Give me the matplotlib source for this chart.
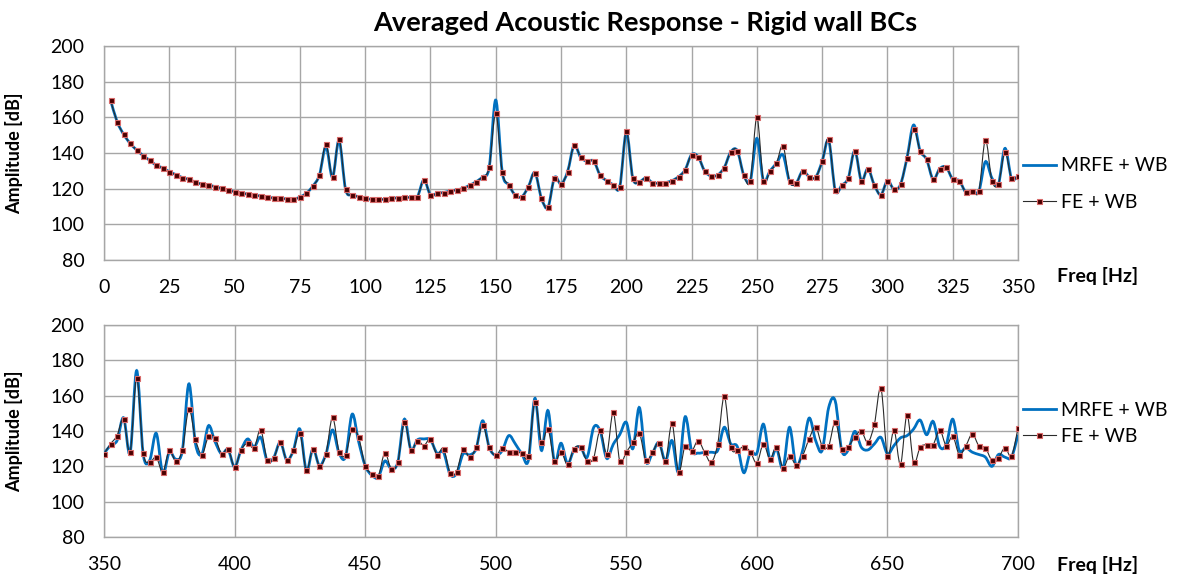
import numpy as np
import matplotlib
matplotlib.use("Agg")
import matplotlib.pyplot as plt
from matplotlib.path import Path
from matplotlib.patches import PathPatch
from matplotlib.lines import Line2D

plt.rcParams['font.family'] = ['Lato', 'DejaVu Sans']

# ---- data (amplitude in dB, 2.5 Hz steps) ----
fe_top = [
    169.7, 157.6, 150.5, 145.4, 141.7, 138.5, 135.9, 133.1, 131.6, 129.5,   # 2.5 - 25
    127.9, 126.2, 125.2, 123.6, 122.6, 122.1, 121.1, 120.2, 119.3, 118.3,   # 27.5 - 50
    117.8, 116.8, 116.3, 115.9, 115.5, 114.6, 114.6, 114.2, 114.0, 115.3,   # 52.5 - 75
    117.4, 121.5, 127.7, 145.0, 126.4, 147.9, 119.6, 116.6, 115.5, 114.6,   # 77.5 - 100
    114.0, 114.0, 114.0, 114.6, 114.8, 115.1, 115.1, 115.5, 124.9, 116.4,   # 102.5 - 125
    117.4, 117.8, 118.7, 119.3, 120.2, 121.9, 123.9, 126.7, 132.0, 162.6,   # 127.5 - 150
    129.3, 122.1, 116.3, 115.5, 121.1, 129.0, 114.6, 109.5, 126.2, 122.6,   # 152.5 - 175
    129.5, 144.3, 137.6, 135.3, 135.5, 127.5, 124.5, 122.2, 121.1, 152.1,   # 177.5 - 200
    125.8, 123.9, 126.0, 123.4, 123.0, 123.4, 124.5, 126.7, 130.5, 139.1,   # 202.5 - 225
    137.9, 129.9, 127.1, 127.7, 131.8, 140.6, 141.3, 127.5, 124.5, 160.0,   # 227.5 - 250
    124.5, 129.9, 134.2, 144.1, 124.1, 123.0, 129.9, 126.7, 126.4, 135.3,   # 252.5 - 275
    147.7, 119.1, 121.9, 126.0, 141.3, 124.5, 131.2, 121.9, 116.6, 124.5,   # 277.5 - 300
    119.6, 122.4, 137.4, 153.6, 141.3, 136.4, 125.2, 131.2, 132.0, 125.2,   # 302.5 - 325
    124.5, 118.1, 118.9, 118.5, 147.3, 124.5, 122.6, 140.7, 125.8, 127.3,   # 327.5 - 350
]
mrfe_top = [
    169.7, 157.6, 150.5, 145.4, 141.7, 138.5, 135.9, 133.1, 131.6, 129.5,
    127.9, 126.2, 125.2, 123.6, 122.6, 122.1, 121.1, 120.2, 119.3, 118.3,
    117.8, 116.8, 116.3, 115.9, 115.5, 114.6, 114.6, 114.2, 114.0, 115.3,
    117.4, 121.5, 127.7, 143.5, 126.4, 147.0, 119.6, 116.6, 115.5, 114.6,
    114.0, 114.0, 114.0, 114.6, 114.8, 115.1, 115.1, 115.5, 124.9, 116.4,
    117.4, 117.8, 118.7, 119.3, 120.2, 121.9, 123.9, 126.7, 132.0, 169.7,
    129.3, 122.1, 116.3, 115.5, 121.1, 129.0, 114.6, 109.5, 126.2, 122.6,
    129.5, 144.3, 137.6, 135.3, 135.5, 127.5, 124.5, 122.2, 121.1, 151.5,
    125.8, 123.9, 126.0, 123.4, 123.0, 123.4, 124.5, 126.7, 130.5, 139.1,
    137.9, 129.9, 127.1, 127.7, 131.8, 140.6, 141.3, 127.5, 124.5, 148.2,
    124.5, 129.9, 134.2, 138.9, 124.1, 123.0, 129.9, 126.7, 126.4, 135.3,
    147.0, 119.1, 121.9, 126.0, 141.3, 124.5, 131.2, 121.9, 116.6, 124.5,
    119.6, 122.4, 137.4, 155.7, 141.3, 136.4, 125.2, 131.2, 132.0, 125.2,
    124.5, 118.1, 118.9, 118.5, 135.1, 126.0, 122.6, 142.6, 125.8, 127.3,
]
fe_bot = [
    127.1,                                                                  # 350
    132.7, 137.4, 146.7, 128.0, 170.1, 127.7, 122.4, 125.2, 116.8, 129.0,   # 352.5 - 375
    123.0, 129.3, 152.3, 135.5, 126.7, 137.0, 136.1, 127.1, 129.9, 119.6,   # 377.5 - 400
    129.3, 133.1, 130.5, 140.7, 123.4, 124.7, 133.6, 123.4, 129.0, 138.7,   # 402.5 - 425
    117.8, 129.9, 120.4, 127.1, 147.7, 128.4, 126.7, 141.1, 136.4, 120.4,   # 427.5 - 450
    115.9, 114.4, 127.5, 118.7, 122.4, 144.9, 129.3, 134.6, 131.8, 135.5,   # 452.5 - 475
    126.7, 130.1, 116.3, 117.0, 129.7, 125.2, 130.8, 143.4, 130.8, 126.2,   # 477.5 - 500
    130.5, 128.0, 128.0, 127.5, 125.8, 156.6, 133.6, 141.1, 123.0, 128.2,   # 502.5 - 525
    121.1, 130.1, 130.8, 123.0, 124.9, 140.6, 127.1, 150.5, 123.0, 128.0,   # 527.5 - 550
    133.6, 138.7, 123.4, 128.0, 133.3, 123.0, 144.3, 116.8, 131.6, 128.6,   # 552.5 - 575
    134.6, 127.9, 122.4, 132.7, 159.6, 131.2, 129.0, 131.2, 128.2, 121.9,   # 577.5 - 600
    132.7, 124.1, 130.8, 119.3, 126.0, 120.9, 126.0, 135.5, 142.4, 131.6,   # 602.5 - 625
    131.6, 145.2, 129.9, 131.2, 136.8, 139.8, 133.6, 143.9, 164.3, 126.0,   # 627.5 - 650
    140.6, 121.1, 149.2, 122.2, 130.8, 132.3, 132.3, 140.6, 131.8, 137.0,   # 652.5 - 675
    126.7, 131.6, 138.3, 131.6, 130.5, 123.4, 124.9, 130.5, 125.8, 141.7,   # 677.5 - 700
]
mrfe_bot = [
    127.1,
    132.0, 134.6, 147.5, 127.5, 174.2, 127.0, 123.5, 138.7, 116.0, 128.0,
    124.0, 129.0, 166.7, 133.0, 127.0, 143.0, 134.0, 127.0, 129.5, 119.6,
    129.3, 135.5, 131.0, 136.4, 123.0, 125.0, 133.6, 123.4, 129.0, 141.1,
    117.5, 129.9, 120.4, 127.1, 140.6, 127.5, 125.5, 149.5, 134.0, 120.4,
    115.0, 113.8, 123.0, 118.7, 122.4, 146.7, 129.5, 135.0, 135.5, 135.0,
    127.5, 128.0, 115.5, 115.9, 127.0, 126.5, 130.0, 145.8, 130.8, 126.2,
    129.0, 137.4, 132.7, 127.1, 123.4, 158.5, 129.0, 151.6, 122.4, 133.1,
    121.5, 129.5, 130.8, 125.2, 142.0, 140.0, 124.5, 132.5, 138.0, 144.9,
    130.0, 153.3, 123.0, 127.5, 133.5, 123.0, 134.6, 116.8, 148.0, 129.0,
    127.5, 127.9, 128.0, 129.0, 142.1, 132.7, 131.2, 116.4, 128.0, 127.5,
    143.9, 124.0, 130.0, 119.0, 142.1, 120.4, 129.0, 147.3, 134.6, 129.0,
    153.3, 157.0, 129.0, 129.3, 139.8, 130.8, 129.3, 132.7, 136.4, 127.1,
    131.8, 136.1, 137.4, 141.1, 146.2, 137.9, 145.4, 131.2, 132.3, 146.7,
    129.0, 130.5, 128.0, 126.7, 125.2, 120.0, 126.7, 125.2, 125.2, 137.9,
]
freq_top = np.arange(1, len(fe_top) + 1) * 2.5
freq_bot = 350 + np.arange(len(fe_bot)) * 2.5

title = 'Averaged Acoustic Response - Rigid wall BCs'
y_ticks = [80, 100, 120, 140, 160, 180, 200]
x_ticks_top = list(range(0, 351, 25))
x_ticks_bot = list(range(350, 701, 50))

blue = '#0070c0'
dark = '#2b2b2b'
grid_c = '#a6a6a6'
mk = dict(marker='s', ms=3.6, mfc='#4a0000', mec='#d86a6a', mew=0.8)


def smooth_path(x, y):
    # Excel-like smoothed line: cubic bezier through every point
    pts = np.column_stack([x, y]).astype(float)
    n = len(pts)
    verts = [pts[0]]
    codes = [Path.MOVETO]
    for i in range(n - 1):
        p0 = pts[max(i - 1, 0)]
        p1 = pts[i]
        p2 = pts[i + 1]
        p3 = pts[min(i + 2, n - 1)]
        verts += [p1 + (p2 - p0) / 6, p2 - (p3 - p1) / 6, p2]
        codes += [Path.CURVE4] * 3
    return Path(verts, codes)


def draw_panel(ax, fx, fe, mrfe, xlim, xticks, leg_y, leg_space, freq_y):
    ax.add_patch(PathPatch(smooth_path(fx, mrfe), fill=False, color=blue, lw=2.0, zorder=3))
    ax.add_patch(PathPatch(smooth_path(fx, fe), fill=False, color=dark, lw=0.8, zorder=4))
    ax.plot(fx, fe, ls='none', zorder=5, **mk)
    ax.set_xlim(*xlim)
    ax.set_ylim(80, 200)
    ax.set_xticks(xticks)
    ax.set_yticks(y_ticks)
    ax.grid(True, color=grid_c, lw=1.0)
    ax.set_axisbelow(True)
    for s in ax.spines.values():
        s.set_color(grid_c)
        s.set_linewidth(1.0)
    ax.tick_params(length=0, labelsize=14, colors='#000000')
    ax.tick_params(axis='x', pad=14)
    ax.tick_params(axis='y', pad=14)
    ax.set_ylabel('Amplitude [dB]', fontsize=13, fontweight='bold')
    ax.yaxis.set_label_coords(-0.089, 0.5)
    ax.text(1.043, freq_y, 'Freq [Hz]', transform=ax.transAxes, fontsize=14,
            fontweight='bold', ha='left', va='center')
    handles = [Line2D([], [], color=blue, lw=2.0),
               Line2D([], [], color=dark, lw=0.8, **mk)]
    ax.legend(handles, ['MRFE + WB', 'FE + WB'], loc='center left',
              bbox_to_anchor=(1.005, leg_y), frameon=False, fontsize=14,
              handlelength=1.7, handletextpad=0.3, labelspacing=leg_space,
              borderaxespad=0, borderpad=0)


fig = plt.figure(figsize=(11.78, 5.81), dpi=100)
ax1 = fig.add_axes([0.0883, 0.5525, 0.7759, 0.3683])
ax2 = fig.add_axes([0.0883, 0.0757, 0.7759, 0.3649])

draw_panel(ax1, freq_top, fe_top, mrfe_top, (0, 350), x_ticks_top, 0.355, 1.0, -0.075)
draw_panel(ax2, freq_bot, fe_bot, mrfe_bot, (350, 700), x_ticks_bot, 0.535, 0.45, -0.132)

fig.text(0.548, 0.96, title, ha='center', va='center', fontsize=19.5, fontweight='bold')

fig.savefig('out.png', dpi=100)
